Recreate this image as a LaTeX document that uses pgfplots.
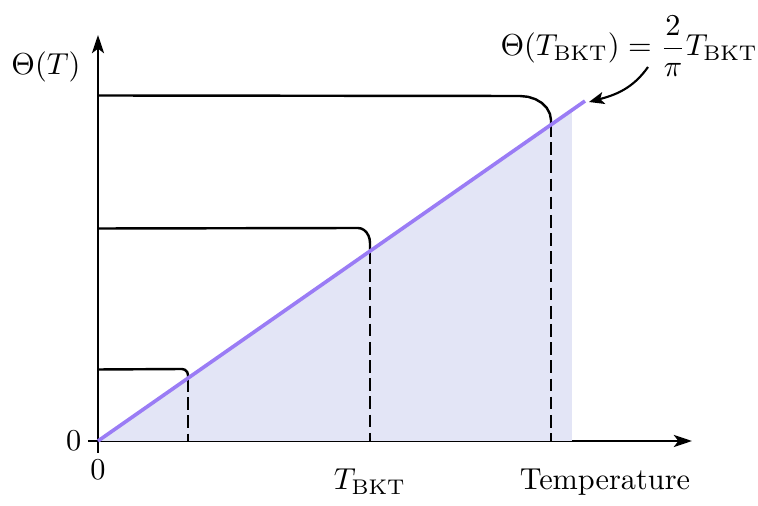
\documentclass[border=0pt]{standalone}
\usepackage{pgfplots}
\pgfplotsset{compat=1.18}
\usetikzlibrary{arrows.meta}
\definecolor{bktline}{RGB}{154,124,245}
\definecolor{bktfill}{RGB}{227,229,246}
\begin{document}
\begin{tikzpicture}
\begin{axis}[
  x=0.33pt, y=0.33pt,
  axis lines=middle,
  axis line style={line width=0.85pt, -{Stealth[length=6pt,width=4pt,inset=1.5pt]}},
  xmin=-10, xmax=594, ymin=-12, ymax=406,
  xtick=\empty, ytick=\empty,
  clip=false,
]
% invisible frame so the page keeps the reference margins
\path (axis cs:-98,-58) rectangle (axis cs:660,441);

% region below Theta = 2/pi T
\addplot[fill=bktfill, draw=none] coordinates {(0,0) (474,331) (474,0)} -- cycle;

% superfluid stiffness curves
\addplot[black, line width=0.8pt] coordinates {
  (0,71.5) (84,72) (87,71.2) (89.2,69) (90,66) (90,62)};
\addplot[black, line width=0.8pt] coordinates {
  (0,212.5) (260,213) (263.1,212.5) (266,211) (268.5,208.6) (270.4,205.5)
  (271.6,201.9) (272,198) (272,190)};
\addplot[black, line width=0.8pt] coordinates {
  (0,345.5) (422,345) (430,344.2) (437.5,341.8) (443.9,338) (448.8,333)
  (451.9,327.2) (453,321) (453,317)};

% drops to the transition temperatures
\addplot[black, line width=0.8pt, dash pattern=on 4.2pt off 1.8pt] coordinates {(90,62) (90,0)};
\addplot[black, line width=0.8pt, dash pattern=on 4.2pt off 1.8pt] coordinates {(272,190) (272,0)};
\addplot[black, line width=0.8pt, dash pattern=on 4.2pt off 1.8pt] coordinates {(453,317) (453,0)};

% universal jump line
\addplot[bktline, line width=1.2pt] coordinates {(0,0) (487,340)};

\node[anchor=east] at (axis cs:-6,0) {$0$};
\node[anchor=base] at (axis cs:0,-39) {$0$};
\node[anchor=base] at (axis cs:272,-49) {$T_{\mathrm{BKT}}$};
\node[anchor=base] at (axis cs:507,-49) {Temperature};
\node[anchor=base] at (axis cs:-52,366) {$\Theta(T)$};
\node[anchor=base west, inner sep=0pt] at (axis cs:402,385)
  {$\Theta(T_{\mathrm{BKT}}) = \displaystyle\frac{2}{\pi}T_{\mathrm{BKT}}$};
\draw[-{Stealth[length=5pt,width=4pt,inset=1.2pt]}, line width=0.7pt]
  (axis cs:550,374) to[out=-125, in=15] (axis cs:491,339);
\end{axis}
\end{tikzpicture}
\end{document}
